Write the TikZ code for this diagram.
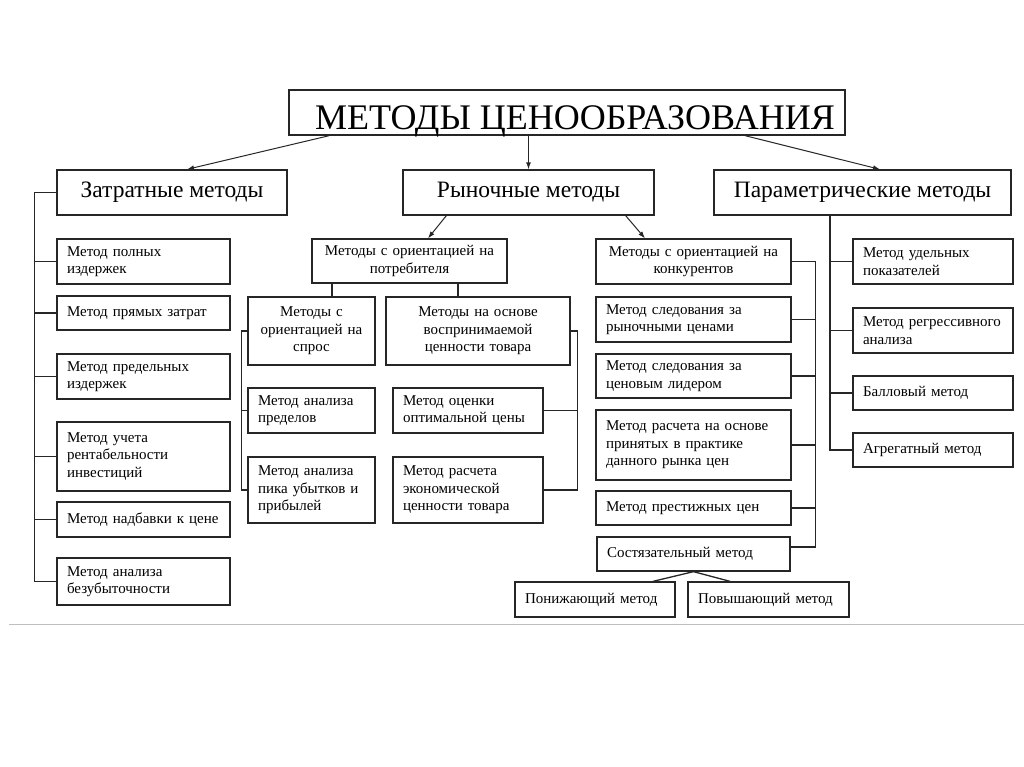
\documentclass[tikz,border=0pt]{standalone}
\usepackage{fontspec}
\setmainfont{Liberation Serif}
\usepackage{tikz}
\usetikzlibrary{arrows.meta,positioning,calc}

\newcommand{\itemfont}{\fontsize{15}{17.5}\selectfont}
\newcommand{\headfont}{\fontsize{23.5}{27}\selectfont}
\newcommand{\titlefont}{\fontsize{36}{40}\selectfont}

\begin{document}
\begin{tikzpicture}[
    x=1pt, y=-1pt,
    box/.style={draw=black!85, line width=1.3pt, inner xsep=10pt, inner ysep=2pt, font=\itemfont},
    item/.style={box, align=left, text width=#1},
    centred/.style={box, align=center, text width=#1},
    head/.style={box, font=\headfont, minimum height=45pt, align=center},
    link/.style={draw=black!85, line width=1.3pt},
    arrow/.style={-{Latex[length=7pt,width=5pt]}, draw=black!85, line width=1pt},
]
    \useasboundingbox (0,0) rectangle (1024,767);

    % top levels
    \node[head, minimum width=556pt, font=\titlefont, text height=37pt, text depth=2pt, inner ysep=3pt, inner xsep=4pt] (title) at (567,112.5) {\hspace*{16pt}МЕТОДЫ ЦЕНООБРАЗОВАНИЯ};
    \node[head, minimum width=230pt] (cost) at (172,192.5) {Затратные методы};
    \node[head, minimum width=251pt] (market) at (528.5,192.5) {Рыночные методы};
    \node[head, minimum width=297pt] (param) at (862.5,192.5) {Параметрические методы};

    % cost methods
    \node[item=153pt, minimum height=45pt] (fullcost) at (143.5,261.5) {Метод полных\\издержек};
    \node[item=153pt, minimum height=34pt] (direct) at (143.5,313) {Метод прямых затрат};
    \node[item=153pt, minimum height=45pt] (marginal) at (143.5,376.5) {Метод предельных\\издержек};
    \node[item=153pt, minimum height=69pt] (invest) at (143.5,456.5) {Метод учета\\рентабельности\\инвестиций};
    \node[item=153pt, minimum height=35pt] (markup) at (143.5,519.5) {Метод надбавки к цене};
    \node[item=153pt, minimum height=47pt] (breakeven) at (143.5,581.5) {Метод анализа\\безубыточности};

    % market methods: consumer
    \node[centred=175pt, minimum height=44pt] (consumer) at (409.5,261) {Методы с ориентацией на\\потребителя};
    \node[centred=107pt, minimum height=68pt] (demand) at (311.5,331) {Методы с\\ориентацией на\\спрос};
    \node[centred=164pt, minimum height=68pt] (value) at (478,331) {Методы на основе\\воспринимаемой\\ценности товара};
    \node[item=107pt, minimum height=45pt] (limits) at (311.5,410.5) {Метод анализа\\пределов};
    \node[item=107pt, minimum height=66pt] (peak) at (311.5,490) {Метод анализа\\пика убытков и\\прибылей};
    \node[item=130pt, minimum height=45pt] (optimal) at (468,410.5) {Метод оценки\\оптимальной цены};
    \node[item=130pt, minimum height=66pt] (econ) at (468,490) {Метод расчета\\экономической\\ценности товара};

    % market methods: competitors
    \node[centred=175pt, minimum height=45pt] (rivals) at (693.5,261.5) {Методы с ориентацией на\\конкурентов};
    \node[item=175pt, minimum height=45pt] (follow) at (693.5,319.5) {Метод следования за\\рыночными ценами};
    \node[item=175pt, minimum height=44pt] (leader) at (693.5,376) {Метод следования за\\ценовым лидером};
    \node[item=175pt, minimum height=70pt] (practice) at (693.5,445) {Метод расчета на основе\\принятых в практике\\данного рынка цен};
    \node[item=175pt, minimum height=34pt] (prestige) at (693.5,508) {Метод престижных цен};
    \node[item=173pt, minimum height=34pt] (tender) at (693.5,554) {Состязательный метод};
    \node[item=140pt, minimum height=35pt] (lower) at (595,599.5) {Понижающий метод};
    \node[item=141pt, minimum height=35pt] (raise) at (768.5,599.5) {Повышающий метод};

    % parametric methods
    \node[item=140pt, minimum height=45pt] (specific) at (933,261.5) {Метод удельных\\показателей};
    \node[item=140pt, minimum height=45pt] (regress) at (933,330.5) {Метод регрессивного\\анализа};
    \node[item=140pt, minimum height=34pt] (points) at (933,393) {Балловый метод};
    \node[item=140pt, minimum height=34pt] (aggreg) at (933,450) {Агрегатный метод};

    % arrows
    \draw[arrow] ([xshift=41pt]title.south west) -- ([xshift=15pt]cost.north);
    \draw[arrow] (title.south -| market.north) -- (market.north);
    \draw[arrow] ([xshift=178pt]title.south) -- ([xshift=17.5pt]param.north);
    \draw[arrow] ([xshift=44pt]market.south west) -- ([xshift=18.5pt]consumer.north);
    \draw[arrow] ([xshift=-29pt]market.south east) -- ([xshift=-48.5pt]rivals.north);

    % tree lines
    \draw[link] (cost.west) -- ++(-22,0) |- (breakeven.west);
    \foreach \n in {fullcost,direct,marginal,invest,markup}
        \draw[link] (\n.west) -- ++(-22,0);

    \draw[link] ([xshift=-77.5pt]consumer.south) -- ++(0,14);
    \draw[link] ([xshift=48.5pt]consumer.south) -- ++(0,14);
    \draw[link] (demand.west) -- ++(-6,0) |- (peak.west);
    \draw[link] (limits.west) -- ++(-6,0);
    \draw[link] (value.east) -- ++(7,0) |- (econ.east);
    \draw[link] (optimal.east) -- ++(34,0);

    \draw[link] (rivals.east) -- ++(24,0) |- ([yshift=7pt]tender.east);
    \foreach \n in {follow,leader,practice,prestige}
        \draw[link] (\n.east) -- ++(24,0);
    \draw[link] (tender.south) -- ([xshift=58pt]lower.north);
    \draw[link] (tender.south) -- ([xshift=-38.5pt]raise.north);

    \draw[link] ([xshift=-32.5pt]param.south) |- (aggreg.west);
    \foreach \n in {specific,regress,points}
        \draw[link] (\n.west) -- ++(-23,0);

    % bottom rule
    \draw[gray!50, line width=1pt] (9,624) -- (1024,624);
\end{tikzpicture}
\end{document}
